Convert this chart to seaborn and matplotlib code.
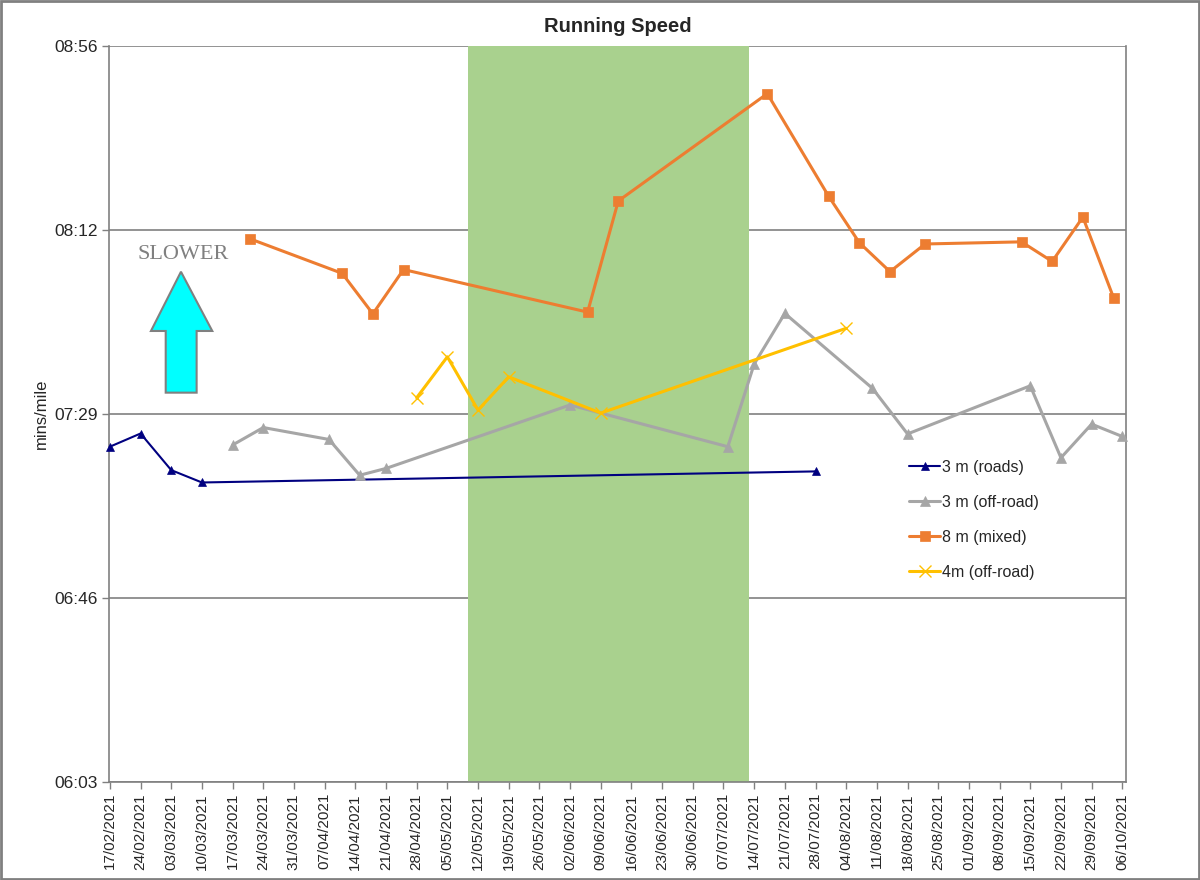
import pandas as pd
import matplotlib
matplotlib.use("Agg")
import matplotlib.pyplot as plt
import matplotlib.dates as mdates
from matplotlib.patches import Polygon, Rectangle
import seaborn as sns

# pace values are written as "HH:MM.m" (Excel shows mins/mile as a time)
roads_dates = ["2021-02-17", "2021-02-24", "2021-03-03", "2021-03-10", "2021-07-28"]
roads_pace = ["07:21.6", "07:24.7", "07:16.1", "07:13.2", "07:15.8"]

offroad3_dates = ["2021-03-17", "2021-03-24", "2021-04-08", "2021-04-15", "2021-04-21",
                  "2021-06-02", "2021-07-08", "2021-07-14", "2021-07-21", "2021-08-10",
                  "2021-08-18", "2021-09-15", "2021-09-22", "2021-09-29", "2021-10-06"]
offroad3_pace = ["07:22.0", "07:26.1", "07:23.3", "07:14.9", "07:16.5",
                 "07:31.4", "07:21.6", "07:41.0", "07:52.9", "07:35.3",
                 "07:24.6", "07:35.9", "07:19.0", "07:26.9", "07:24.0"]

mixed_dates = ["2021-03-21", "2021-04-11", "2021-04-18", "2021-04-25", "2021-06-06",
               "2021-06-13", "2021-07-17", "2021-07-31", "2021-08-07", "2021-08-14",
               "2021-08-22", "2021-09-13", "2021-09-20", "2021-09-27", "2021-10-04"]
mixed_pace = ["08:10.4", "08:02.3", "07:52.8", "08:03.2", "07:53.2",
              "08:19.3", "08:44.5", "08:20.4", "08:09.5", "08:02.7",
              "08:09.2", "08:09.7", "08:05.1", "08:15.5", "07:56.6"]

offroad4_dates = ["2021-04-28", "2021-05-05", "2021-05-12", "2021-05-19", "2021-06-09", "2021-08-04"]
offroad4_pace = ["07:33.1", "07:42.7", "07:30.2", "07:38.0", "07:29.5", "07:49.4"]

# shaded period
break_start = "2021-05-09 17:00"
break_end = "2021-07-12 20:00"

# axis: Excel time axis 0.252 .. 0.372 day, major unit 0.03 day
y_ticks_days = [0.252, 0.282, 0.312, 0.342, 0.372]
x_start = "2021-02-17"
x_end = "2021-10-06"
x_lim = ("2021-02-16 19:00", "2021-10-06 20:00")


def to_min(s):
    h, m = s.split(":")
    return int(h) * 60 + float(m)


def fmt_time(v, pos=None):
    total = int(round(v))
    return f"{total // 60:02d}:{total % 60:02d}"


sns.set_style("white")
plt.rcParams['font.family'] = ['Liberation Sans', 'DejaVu Sans']

fig = plt.figure(figsize=(12, 8.8), dpi=100)
ax = fig.add_axes([0.0908, 0.1114, 0.8475, 0.8363])

series = [
    (roads_dates, roads_pace, "3 m (roads)", "#000080", "^", 6, 1.5),
    (offroad3_dates, offroad3_pace, "3 m (off-road)", "#A6A6A6", "^", 7.5, 2.2),
    (mixed_dates, mixed_pace, "8 m (mixed)", "#ED7D31", "s", 7, 2.2),
    (offroad4_dates, offroad4_pace, "4m (off-road)", "#FFC000", "x", 8, 2.2),
]

for dates, pace, label, col, mk, ms, lw in series:
    df = pd.DataFrame({"date": pd.to_datetime(dates),
                       "pace": [to_min(p) for p in pace]})
    mew = 1.0 if mk == "x" else 0.5
    sns.lineplot(data=df, x="date", y="pace", ax=ax, color=col, label=label,
                 marker=mk, markersize=ms, linewidth=lw,
                 markeredgecolor=col, markeredgewidth=mew, zorder=3, clip_on=False)

ax.axvspan(pd.Timestamp(break_start), pd.Timestamp(break_end),
           color="#A9D18E", zorder=1, lw=0)

y_ticks = [d * 24 * 60 for d in y_ticks_days]
ax.set_ylim(y_ticks[0], y_ticks[-1])
ax.set_yticks(y_ticks)
ax.yaxis.set_major_formatter(plt.FuncFormatter(fmt_time))

ax.set_xlim(pd.Timestamp(x_lim[0]), pd.Timestamp(x_lim[1]))
ax.set_xticks(pd.date_range(x_start, x_end, freq="7D"))
ax.xaxis.set_major_formatter(mdates.DateFormatter("%d/%m/%Y"))
plt.setp(ax.get_xticklabels(), rotation=90)

ax.grid(axis="y", color="#808080", linewidth=1.2)
ax.grid(axis="x", visible=False)
ax.set_axisbelow(True)

for side in ["left", "bottom", "right"]:
    ax.spines[side].set_color("#808080")
    ax.spines[side].set_linewidth(1.2)
ax.spines["top"].set_visible(False)

ax.tick_params(axis="y", which="major", length=5, width=1, color="#808080",
               labelsize=12.5, pad=3, left=True)
ax.tick_params(axis="x", which="major", length=5, width=1, color="#808080",
               labelsize=11, pad=3, bottom=True)

ax.set_xlabel("")
ax.set_ylabel("mins/mile", fontsize=12, labelpad=4)
ax.set_title("Running Speed", fontsize=14.5, fontweight="bold", pad=10)

ax.legend(loc="center left", bbox_to_anchor=(0.7866, 0.356), frameon=False,
          fontsize=11.5, labelspacing=1.25, handlelength=1.95,
          handletextpad=0.1, borderaxespad=0, borderpad=0)

# "SLOWER" note with up arrow
ax.text(0.0725, 0.7174, "SLOWER", transform=ax.transAxes, ha="center", va="center",
        fontsize=16, color="#808080", family=["Liberation Serif", "DejaVu Serif"])
arrow = Polygon([(0.0708, 0.6933), (0.1016, 0.6128), (0.0862, 0.6128), (0.0862, 0.529),
                 (0.0558, 0.529), (0.0558, 0.6128), (0.0413, 0.6128)],
                closed=True, transform=ax.transAxes, facecolor="#00FFFF",
                edgecolor="#808080", linewidth=1.5, zorder=4)
ax.add_patch(arrow)

fig.add_artist(Rectangle((0.001, 0.001), 0.998, 0.998, transform=fig.transFigure,
                         fill=False, edgecolor="#808080", linewidth=2))

fig.savefig("out.png", dpi=100)
